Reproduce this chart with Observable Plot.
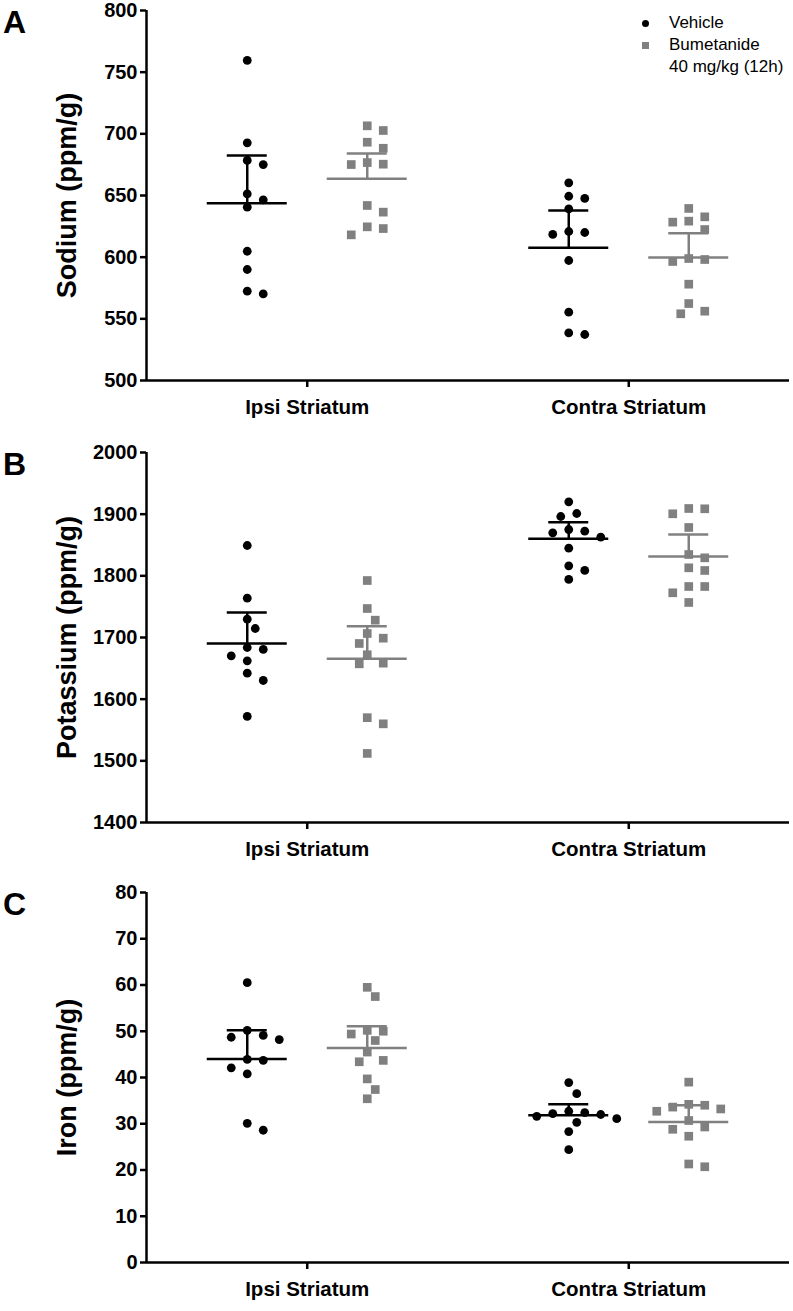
<!DOCTYPE html>
<html><head><meta charset="utf-8">
<script src="https://cdn.jsdelivr.net/npm/d3@7"></script>
<script src="https://cdn.jsdelivr.net/npm/@observablehq/plot@0.6"></script>
<style>
body{margin:0;background:#fff;font-family:"Liberation Sans",Arial,Helvetica,sans-serif;}
#chart{width:793px;}
.panel{position:relative;width:793px;}
.panel svg{display:block;overflow:visible;}
.panel svg g[aria-label$="tick"]{stroke-width:2.5px;}
.panel svg .tick line{stroke-width:2.5px;}
.panel svg g[aria-label="x-axis tick label"], .panel svg g[aria-label="x-axis"] text{font-size:20.5px;}
.letter{position:absolute;left:3px;font:bold 32px "Liberation Sans",Arial,sans-serif;line-height:32px;}
.legend{position:absolute;left:638px;top:12px;font:17px "Liberation Sans",Arial,sans-serif;color:#000;}
.legend .row{position:relative;height:22px;line-height:22px;padding-left:31px;white-space:nowrap;}
.legend .mk{position:absolute;left:4px;top:8px;width:7px;height:7px;}
</style></head>
<body><div id="chart"></div>
<script>
// ---- categories ----
const regions = ["Ipsi Striatum", "Contra Striatum"];
const treatments = ["Vehicle", "Bumetanide"];
const legendLabels = ["Vehicle", "Bumetanide", "40 mg/kg (12h)"];
const treatmentColors = ["#000000", "#808080"];

// ---- Panel A: Sodium (ppm/g) ----
const sodiumIpsiVehicle = [759.5, 692.7, 678.4, 675.1, 651.3, 646.5, 640.5, 604.8, 590.0, 572.4, 570.2];
const sodiumIpsiBumetanide = [706.5, 702.7, 693.2, 688.3, 676.7, 675.1, 675.4, 641.9, 636.5, 624.6, 623.2, 618.1];
const sodiumContraVehicle = [660.3, 649.4, 647.6, 639.2, 620.0, 618.4, 620.8, 597.3, 555.4, 537.3, 538.6];
const sodiumContraBumetanide = [639.5, 632.7, 628.4, 629.2, 622.4, 598.9, 596.5, 598.1, 578.1, 562.4, 556.2, 554.1];
const sodiumMean = [643.8, 663.5, 607.6, 599.7];   // ipsi-veh, ipsi-bum, contra-veh, contra-bum
const sodiumUpper = [682.4, 684.0, 637.8, 619.4];
const sodiumTicks = [500, 550, 600, 650, 700, 750, 800];

// ---- Panel B: Potassium (ppm/g) ----
const potassiumIpsiVehicle = [1849.2, 1763.8, 1729.7, 1714.6, 1680.6, 1683.8, 1670.3, 1662.2, 1642.1, 1630.3, 1572.0];
const potassiumIpsiBumetanide = [1792.4, 1747.0, 1728.1, 1706.5, 1698.9, 1690.3, 1672.0, 1657.3, 1658.4, 1570.0, 1560.0, 1512.0];
const potassiumContraVehicle = [1920.0, 1896.2, 1901.1, 1872.4, 1869.8, 1875.1, 1862.7, 1844.9, 1816.3, 1808.7, 1794.1];
const potassiumContraBumetanide = [1908.7, 1900.6, 1909.2, 1878.4, 1834.6, 1829.2, 1813.0, 1808.7, 1782.7, 1782.7, 1772.5, 1756.8];
const potassiumMean = [1690.3, 1665.5, 1860.0, 1831.4];
const potassiumUpper = [1740.6, 1718.4, 1887.0, 1867.0];
const potassiumTicks = [1400, 1500, 1600, 1700, 1800, 1900, 2000];

// ---- Panel C: Iron (ppm/g) ----
const ironIpsiVehicle = [60.5, 50.2, 49.1, 48.2, 48.7, 43.9, 43.7, 42.1, 40.8, 30.1, 28.6];
const ironIpsiBumetanide = [59.5, 57.5, 50.2, 50.0, 49.4, 48.0, 45.5, 43.4, 43.7, 39.7, 37.4, 35.4];
const ironContraVehicle = [38.9, 36.5, 32.4, 31.6, 32.0, 32.2, 32.7, 31.1, 30.3, 28.3, 24.4];
const ironContraBumetanide = [39.0, 34.2, 33.6, 32.7, 33.2, 34.0, 30.7, 28.8, 29.3, 27.3, 20.7, 21.3];
const ironMean = [44.0, 46.4, 31.85, 30.4];
const ironUpper = [50.2, 51.1, 34.2, 34.0];
const ironTicks = [0, 10, 20, 30, 40, 50, 60, 70, 80];

// ---- layout constants ----
const W = 793, marginLeft = 146, marginRight = 4;
const pxPerX = (W - marginLeft - marginRight) / 2; // x domain [-0.5, 1.5]
const treatOffsetPx = 60, meanHalfPx = 40, capHalfPx = 20, swarmStep = 8, swarmDist = 12;

function swarm(values, pxPerY) {
  const order = d3.range(values.length).sort((a, b) => values[b] - values[a]);
  const placed = [], off = new Array(values.length);
  for (const i of order) {
    const y = values[i] * pxPerY;
    for (let k = 0; ; k++) {
      const o = k === 0 ? 0 : (k % 2 ? 1 : -1) * Math.ceil(k / 2) * swarmStep;
      if (placed.every(p => (p.o - o) ** 2 + (p.y - y) ** 2 >= swarmDist * swarmDist)) {
        off[i] = o; placed.push({o, y}); break;
      }
    }
  }
  return off;
}

function makePanel(cfg) {
  const {series, means, uppers, ticks, label, letter, height, marginTop, marginBottom, legend} = cfg;
  const yDomain = [ticks[0], ticks[ticks.length - 1]];
  const pxPerY = (height - marginTop - marginBottom) / (yDomain[1] - yDomain[0]);
  const points = [], stats = [];
  series.forEach((vals, gi) => {
    const r = Math.floor(gi / 2), t = gi % 2;
    const cx = r + (t === 0 ? -1 : 1) * treatOffsetPx / pxPerX;
    const offs = swarm(vals, pxPerY);
    vals.forEach((v, i) => points.push({t, x: cx + offs[i] / pxPerX, y: v}));
    stats.push({t, cx, mean: means[gi], upper: uppers[gi]});
  });
  const marks = [
    Plot.ruleX([-0.5], {stroke: "#000", strokeWidth: 2.5}),
    Plot.ruleY([yDomain[0]], {stroke: "#000", strokeWidth: 2.5}),
  ];
  treatments.forEach((tr, t) => {
    const col = treatmentColors[t];
    const st = stats.filter(d => d.t === t);
    marks.push(
      Plot.ruleY(st, {x1: d => d.cx - meanHalfPx / pxPerX, x2: d => d.cx + meanHalfPx / pxPerX, y: "mean", stroke: col, strokeWidth: 2.5}),
      Plot.ruleY(st, {x1: d => d.cx - capHalfPx / pxPerX, x2: d => d.cx + capHalfPx / pxPerX, y: "upper", stroke: col, strokeWidth: 2.5}),
      Plot.ruleX(st, {x: "cx", y1: "mean", y2: "upper", stroke: col, strokeWidth: 2.5}),
      Plot.dot(points.filter(d => d.t === t), {x: "x", y: "y", fill: col, stroke: "none",
        symbol: t === 0 ? "circle" : "square", r: t === 0 ? 4.4 : 4.9})
    );
  });
  marks.push(Plot.text([label], {text: d => d, frameAnchor: "left", rotate: -90, dx: -79,
    fontSize: 27, fontWeight: "bold", textAnchor: "middle", lineAnchor: "middle"}));

  const svg = Plot.plot({
    width: W, height, marginLeft, marginRight, marginTop, marginBottom,
    style: {fontSize: "20px", fontWeight: "bold", fontFamily: '"Liberation Sans", Arial, sans-serif', color: "#000", background: "#fff", overflow: "visible"},
    x: {type: "linear", domain: [-0.5, 1.5], ticks: [0, 1], tickFormat: i => regions[i], tickSize: 7, tickPadding: 12, label: null},
    y: {domain: yDomain, ticks, tickFormat: d => String(d), tickSize: 6, tickPadding: 3, label: null},
    marks
  });
  const div = document.createElement("div");
  div.className = "panel";
  div.appendChild(svg);
  const L = document.createElement("div");
  L.className = "letter"; L.textContent = letter; L.style.top = (marginTop - 4) + "px";
  div.appendChild(L);
  if (legend) {
    const lg = document.createElement("div");
    lg.className = "legend";
    legendLabels.forEach((txt, i) => {
      const row = document.createElement("div");
      row.className = "row"; row.textContent = txt;
      if (i < 2) {
        const mk = document.createElement("span");
        mk.className = "mk";
        mk.style.background = treatmentColors[i];
        if (i === 0) mk.style.borderRadius = "50%";
        row.appendChild(mk);
      }
      lg.appendChild(row);
    });
    div.appendChild(lg);
  }
  return div;
}

const chart = document.getElementById("chart");
chart.appendChild(makePanel({
  series: [sodiumIpsiVehicle, sodiumIpsiBumetanide, sodiumContraVehicle, sodiumContraBumetanide],
  means: sodiumMean, uppers: sodiumUpper, ticks: sodiumTicks, label: "Sodium (ppm/g)", letter: "A",
  height: 441, marginTop: 10, marginBottom: 61, legend: true
}));
chart.appendChild(makePanel({
  series: [potassiumIpsiVehicle, potassiumIpsiBumetanide, potassiumContraVehicle, potassiumContraBumetanide],
  means: potassiumMean, uppers: potassiumUpper, ticks: potassiumTicks, label: "Potassium (ppm/g)", letter: "B",
  height: 441, marginTop: 11, marginBottom: 60
}));
chart.appendChild(makePanel({
  series: [ironIpsiVehicle, ironIpsiBumetanide, ironContraVehicle, ironContraBumetanide],
  means: ironMean, uppers: ironUpper, ticks: ironTicks, label: "Iron (ppm/g)", letter: "C",
  height: 428, marginTop: 10, marginBottom: 48
}));
</script>
</body></html>
